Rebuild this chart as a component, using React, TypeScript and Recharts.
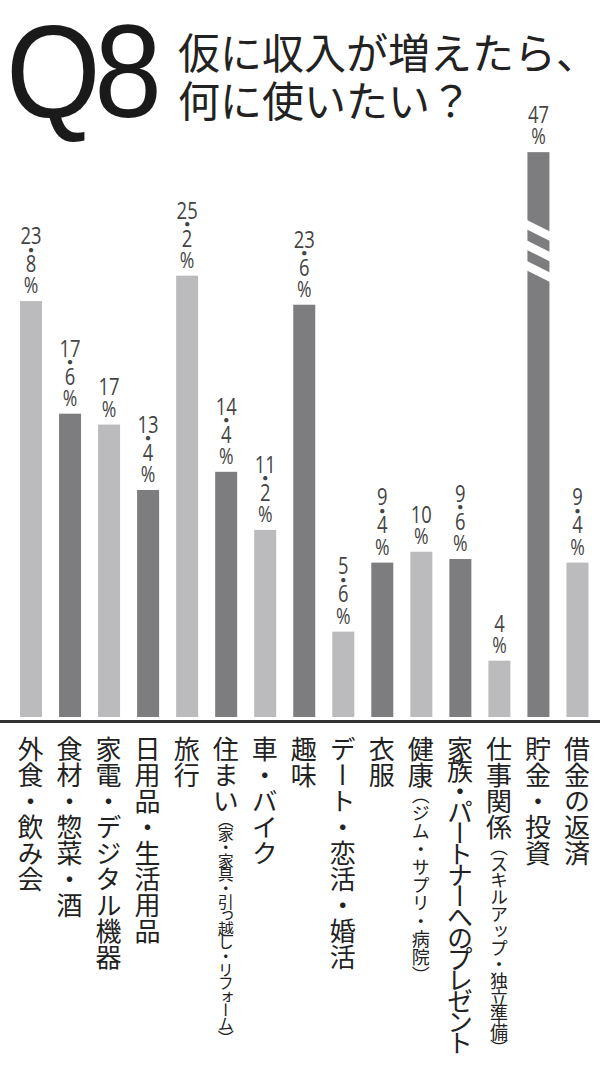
import { Bar, BarChart, LabelList, XAxis, YAxis } from 'recharts'

const CATEGORIES = [
  '外食・飲み会',
  '食材・惣菜・酒',
  '家電・デジタル機器',
  '日用品・生活用品',
  '旅行',
  '住まい（家・家具・引っ越し・リフォーム）',
  '車・バイク',
  '趣味',
  'デート・恋活・婚活',
  '衣服',
  '健康（ジム・サプリ・病院）',
  '家族・パートナーへのプレゼント',
  '仕事関係（スキルアップ・独立準備）',
  '貯金・投資',
  '借金の返済',
]
const SHARES = [23.8, 17.6, 17, 13.4, 25.2, 14.4, 11.2, 23.6, 5.6, 9.4, 10, 9.6, 4, 47, 9.4]
// bars taller than this are drawn cut, with break marks
const BREAK_AT = 32

const LIGHT = '#bbbbbd'
const DARK = '#7d7d80'
const JP = '"Noto Sans CJK JP", "Noto Sans", sans-serif'
const LABEL_SIZE = 26

// per-label squeeze so the long vertical labels fit the page
const LABEL_FIT: Record<string, { spacing?: number; noteSize?: number; noteSpacing?: number }> = {
  '住まい（家・家具・引っ越し・リフォーム）': { noteSize: 16, noteSpacing: -2.4 },
  '健康（ジム・サプリ・病院）': { noteSize: 18, noteSpacing: 0 },
  '家族・パートナーへのプレゼント': { spacing: -5 },
  '仕事関係（スキルアップ・独立準備）': { noteSize: 18, noteSpacing: -1.2 },
}

const data = CATEGORIES.map((name, i) => ({
  name,
  value: SHARES[i],
  shown: Math.min(SHARES[i], BREAK_AT),
}))

function BarShape(props: any) {
  const { x, y, width, height, index, payload } = props
  const fill = index % 2 === 0 ? LIGHT : DARK
  const broken = payload.value > payload.shown
  return (
    <g>
      <rect x={x} y={y} width={width} height={height} fill={fill} />
      {broken &&
        [68, 88.5, 109].map((off) => (
          <polygon
            key={off}
            points={`${x - 1},${y + off - 0.5} ${x + width + 1},${y + off + 11.5} ${x + width + 1},${y + off + 21} ${x - 1},${y + off + 9}`}
            fill="#fff"
          />
        ))}
    </g>
  )
}

function ValueLabel(props: any) {
  const vb = props.viewBox ?? props
  const cx = vb.x + vb.width / 2
  const top = vb.y
  const [whole, frac] = String(props.value).split('.')
  const digits: [string, number][] = frac ? [[whole, -66], [frac, -38]] : [[whole, -38]]
  return (
    <g transform={`translate(${cx},${top})`}>
      {digits.map(([t, dy]) => (
        <text
          key={dy}
          transform="scale(0.8,1)"
          x={0}
          y={dy}
          textAnchor="middle"
          dominantBaseline="central"
          fontFamily='"Open Sans", sans-serif'
          fontSize={23}
          fill="#444"
        >
          {t}
        </text>
      ))}
      {frac && (
        <text x={0} y={-52} textAnchor="middle" dominantBaseline="central" fontFamily={JP} fontSize={20} fill="#444">
          ・
        </text>
      )}
      <text
        transform="scale(0.8,1)"
        x={0}
        y={-16}
        textAnchor="middle"
        dominantBaseline="central"
        fontFamily='"Open Sans", sans-serif'
        fontSize={22}
        fill="#444"
      >
        %
      </text>
    </g>
  )
}

function CategoryTick(props: any) {
  const { x, y, payload } = props
  const label: string = payload.value
  const cut = label.indexOf('（')
  const main = cut >= 0 ? label.slice(0, cut) : label
  const note = cut >= 0 ? label.slice(cut) : ''
  const fit = LABEL_FIT[label] ?? {}
  const spacing = fit.spacing ?? 0
  const top = y + 19
  return (
    <g>
      <text
        x={x}
        y={top}
        fill="#222"
        fontSize={LABEL_SIZE}
        fontFamily={JP}
        letterSpacing={spacing}
        style={{ writingMode: 'vertical-rl' }}
      >
        {main}
      </text>
      {note && (
        <text
          x={x}
          y={top + main.length * (LABEL_SIZE + spacing) - 2}
          fill="#222"
          fontSize={fit.noteSize ?? 18}
          fontFamily={JP}
          letterSpacing={fit.noteSpacing ?? 0}
          style={{ writingMode: 'vertical-rl' }}
        >
          {note}
        </text>
      )}
    </g>
  )
}

export default function App() {
  return (
    <div style={{ position: 'absolute', left: 0, top: 0, width: 600, height: 1070, background: '#fff', overflow: 'hidden' }}>
      <BarChart width={600} height={1070} data={data} margin={{ top: 134, right: 3.5, bottom: 13, left: 11 }}>
        <XAxis
          dataKey="name"
          interval={0}
          height={340}
          axisLine={false}
          tickLine={false}
          tickSize={0}
          tickMargin={0}
          tick={<CategoryTick />}
        />
        <YAxis type="number" domain={[0.9, 33]} hide />
        <Bar dataKey="shown" barSize={22} shape={<BarShape />} isAnimationActive={false}>
          <LabelList dataKey="value" content={<ValueLabel />} />
        </Bar>
      </BarChart>

      <div style={{ position: 'absolute', left: 0, top: 720, width: 600, height: 3, background: '#333' }} />

      <svg width={600} height={160} style={{ position: 'absolute', left: 0, top: 0, pointerEvents: 'none' }}>
        <g transform="translate(6,117) scale(0.93,1)">
          <text x={0} y={0} fontFamily='"Liberation Sans", Arial, sans-serif' fontSize={131} letterSpacing={-7} fill="#1a1a1a">
            Q8
          </text>
        </g>
        <text x={178} y={50} dominantBaseline="central" fontFamily={JP} fontSize={42} fill="#222">
          仮に収入が増えたら、
        </text>
        <text x={178} y={98} dominantBaseline="central" fontFamily={JP} fontSize={42} fill="#222">
          何に使いたい？
        </text>
      </svg>
    </div>
  )
}
